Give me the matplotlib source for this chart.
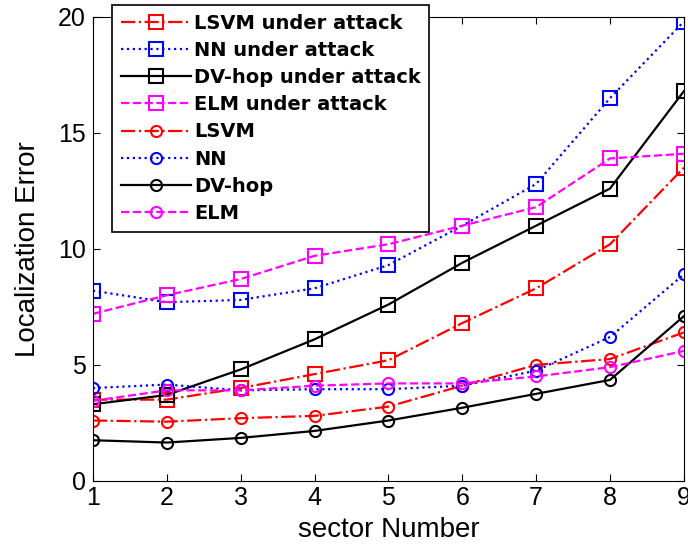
import matplotlib
matplotlib.use("Agg")
import matplotlib.pyplot as plt

plt.rcParams['font.family'] = ['Liberation Sans', 'DejaVu Sans']

sectors = [1, 2, 3, 4, 5, 6, 7, 8, 9]

lsvm_attack = [3.5, 3.5, 4.0, 4.6, 5.2, 6.8, 8.3, 10.2, 13.5]
nn_attack = [8.2, 7.7, 7.8, 8.3, 9.3, 11.0, 12.8, 16.5, 19.8]
dvhop_attack = [3.3, 3.7, 4.8, 6.1, 7.6, 9.4, 11.0, 12.6, 16.8]
elm_attack = [7.2, 8.0, 8.7, 9.7, 10.2, 11.0, 11.8, 13.9, 14.1]
lsvm = [2.6, 2.55, 2.7, 2.8, 3.2, 4.1, 5.0, 5.25, 6.4]
nn = [4.0, 4.15, 3.9, 3.95, 3.95, 4.1, 4.75, 6.2, 8.9]
dvhop = [1.75, 1.65, 1.85, 2.15, 2.6, 3.15, 3.75, 4.35, 7.1]
elm = [3.45, 3.9, 3.9, 4.1, 4.2, 4.2, 4.5, 4.9, 5.6]

series = [
    (lsvm_attack, 'LSVM under attack', 'red', '-.', 's'),
    (nn_attack, 'NN under attack', 'blue', ':', 's'),
    (dvhop_attack, 'DV-hop under attack', 'black', '-', 's'),
    (elm_attack, 'ELM under attack', 'magenta', '--', 's'),
    (lsvm, 'LSVM', 'red', '-.', 'o'),
    (nn, 'NN', 'blue', ':', 'o'),
    (dvhop, 'DV-hop', 'black', '-', 'o'),
    (elm, 'ELM', 'magenta', '--', 'o'),
]

fig = plt.figure(figsize=(6.88, 5.47), dpi=100)
ax = fig.add_axes([0.135, 0.121, 0.859, 0.848])

for valores, nombre, color, estilo, marcador in series:
    ms = 10 if marcador == 's' else 8
    ax.plot(sectors, valores, color=color, linestyle=estilo, marker=marcador,
            markersize=ms, markerfacecolor='none', markeredgecolor=color,
            markeredgewidth=1.5, linewidth=1.6, label=nombre)

ax.set_xlim(1, 9)
ax.set_ylim(0, 20)
ax.set_xticks(sectors)
ax.set_yticks([0, 5, 10, 15, 20])
ax.tick_params(direction='in', top=True, right=True, labelsize=18, length=5)
ax.tick_params(axis='x', pad=4)
ax.tick_params(axis='y', pad=5)
ax.set_xlabel('sector Number', fontsize=20, va='center')
ax.set_ylabel('Localization Error', fontsize=20, va='center')
ax.xaxis.set_label_coords(0.5, -0.105)
ax.yaxis.set_label_coords(-0.11, 0.5)

leg = ax.legend(loc='upper left', bbox_to_anchor=(0.163, 0.991), bbox_transform=fig.transFigure,
                prop={'family': 'DejaVu Sans', 'weight': 'bold', 'size': 14},
                handlelength=3.6, labelspacing=0.42, borderpad=0.45, handletextpad=0.15,
                fancybox=False, framealpha=1, edgecolor='black', borderaxespad=0)
leg.get_frame().set_linewidth(1.2)

fig.savefig('out.png', dpi=100)
